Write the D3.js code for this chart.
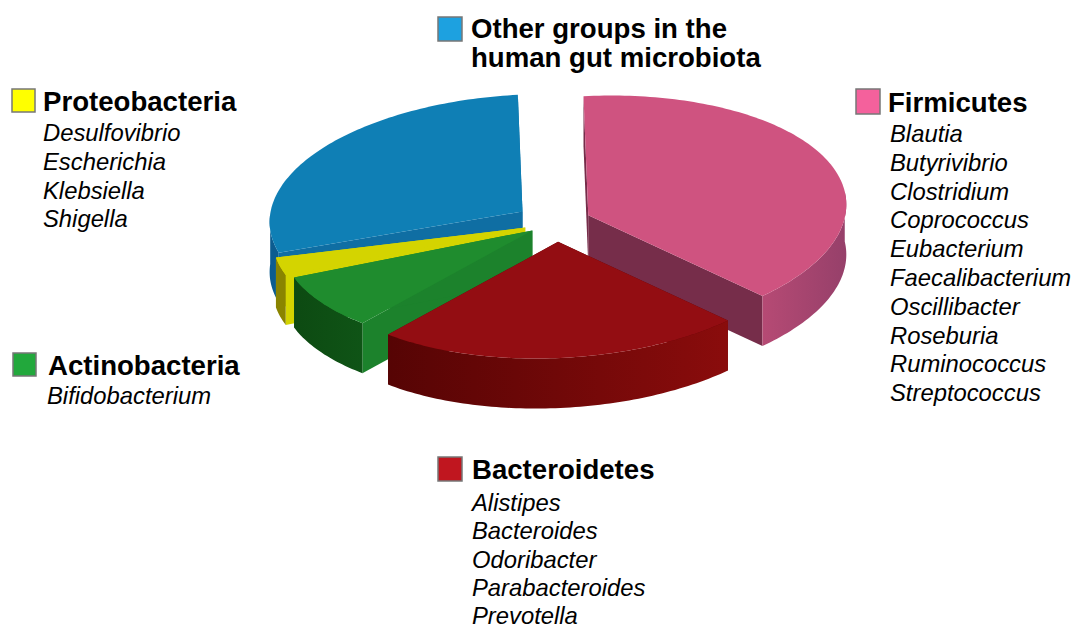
<!DOCTYPE html>
<html>
<head>
<meta charset="utf-8">
<script src="https://cdn.jsdelivr.net/npm/d3@7"></script>
<style>
html, body { margin: 0; padding: 0; background: #fff; }
svg { display: block; }
text { font-family: "Liberation Sans", Arial, sans-serif; fill: #000; }
</style>
</head>
<body>
<svg id="chart" width="1073" height="628"></svg>
<script>
// Chart values
const groups = ["Firmicutes", "Bacteroidetes", "Actinobacteria", "Proteobacteria", "Other"];
const shares = [38.5, 23.6, 8, 2.5, 27.4];

const firmicutes = ["Blautia", "Butyrivibrio", "Clostridium", "Coprococcus", "Eubacterium", "Faecalibacterium", "Oscillibacter", "Roseburia", "Ruminococcus", "Streptococcus"];
const bacteroidetes = ["Alistipes", "Bacteroides", "Odoribacter", "Parabacteroides", "Prevotella"];
const actinobacteria = ["Bifidobacterium"];
const proteobacteria = ["Desulfovibrio", "Escherichia", "Klebsiella", "Shigella"];
const otherTitle = ["Other groups in the", "human gut microbiota"];

// Pie geometry
const svg = d3.select("#chart");
const cx = 554, cy = 223;   // centre of the un-exploded pie
const rx = 258, ry = 119;   // ellipse radii of the top face
const depth = 50;           // height of the extrusion
const skewX = 0.04, skewY = 0.05; // the whole pie leans a little

// slice looks: colours, explode fraction, radius scale, small nudges to sit like the original
const styles = [
    {top: "#cf5380", wall: "#762d4a", outL: "#b64a74", outR: "#96406a", explode: 0.143, rad: 1, nudge: [0, 0], extra: 0},
    {top: "#930d12", wall: "#5a0404", outL: "#560404", outR: "#8a0c0c", explode: 0.143, rad: 0.975, nudge: [4, 2], extra: 0},
    {top: "#1f8c2e", wall: "#1c822c", outL: "#0d4a12", outR: "#0f5416", explode: 0.10, rad: 0.975, nudge: [0, 0], extra: 0},
    {top: "#d4d400", wall: "#d4d400", outL: "#8a8400", outR: "#8a8400", explode: 0.115, rad: 0.98, nudge: [0, 0], extra: 0},
    {top: "#0f7fb5", wall: "#0f6ea3", outL: "#0c5c90", outR: "#0c5c90", explode: 0.143, rad: 0.98, nudge: [-3, -2], extra: 0.1}
];

// Maps a pie angle + radius fraction to the screen, z pushes it down
function project(t, r, ox, oy, z) {
    const u = rx * r * Math.sin(t) + ox;
    const v = -ry * r * Math.cos(t) + oy;
    return [cx + u + skewX * v, cy + v - skewY * u + z];
}

const pie = d3.pie().sort(null).value(d => d);
const arcs = pie(shares);
const line = d3.line();

const defs = svg.append("defs");
arcs.forEach((d, i) => {
    const g = defs.append("linearGradient").attr("id", "outer" + i);
    g.append("stop").attr("offset", "0%").attr("stop-color", styles[i].outL);
    g.append("stop").attr("offset", "100%").attr("stop-color", styles[i].outR);
});

// Back to front
const drawOrder = [4, 3, 0, 2, 1];
const pieGroup = svg.append("g");

drawOrder.forEach(i => {
    const d = arcs[i], st = styles[i];
    const mid = (d.startAngle + d.endAngle) / 2;
    const ox = rx * st.explode * Math.sin(mid) + st.nudge[0];
    const oy = -ry * st.explode * Math.cos(mid) + st.nudge[1];
    const a0 = d.startAngle - st.extra, a1 = d.endAngle;
    const n = Math.max(6, Math.ceil((a1 - a0) / 0.02));
    const angles = d3.range(n + 1).map(k => a0 + (a1 - a0) * k / n);
    const rim = angles.map(t => project(t, st.rad, ox, oy, 0));
    const rimLow = angles.map(t => project(t, st.rad, ox, oy, depth));
    const apex = project(0, 0, ox, oy, 0);
    const apexLow = project(0, 0, ox, oy, depth);
    const s = pieGroup.append("g").attr("class", "slice").attr("data-name", groups[i]);

    // cut walls
    s.append("path").attr("fill", st.wall)
        .attr("d", line([apex, rim[0], rimLow[0], apexLow]) + "Z");
    s.append("path").attr("fill", st.wall)
        .attr("d", line([apex, rim[n], rimLow[n], apexLow]) + "Z");

    // outer wall, only the part that faces the viewer
    const front = angles.filter(t => Math.cos(t) < 0.1);
    if (front.length > 1) {
        const a = front.map(t => project(t, st.rad, ox, oy, 0));
        const b = front.map(t => project(t, st.rad, ox, oy, depth)).reverse();
        s.append("path").attr("fill", "url(#outer" + i + ")")
            .attr("d", line(a.concat(b)) + "Z");
    }

    // top face
    s.append("path").attr("fill", st.top)
        .attr("d", line([apex].concat(rim)) + "Z");
});

// Legend blocks
const legend = [
    {title: ["Firmicutes"], names: firmicutes, color: "#f4619c", box: [856, 89, 24, 25], tx: 888, ty: 112, nx: 890, ny: 142},
    {title: ["Bacteroidetes"], names: bacteroidetes, color: "#c0161f", box: [438, 457, 24, 24], tx: 472, ty: 479, nx: 472, ny: 511, step: 28.25},
    {title: ["Actinobacteria"], names: actinobacteria, color: "#22a83c", box: [13, 353, 23, 23], tx: 48, ty: 375, nx: 47, ny: 404},
    {title: ["Proteobacteria"], names: proteobacteria, color: "#ffff00", box: [12, 89, 23, 23], tx: 43, ty: 111, nx: 43, ny: 141},
    {title: otherTitle, names: [], color: "#1da1e0", box: [438, 17, 24, 24], tx: 471, ty: 38, nx: 471, ny: 0}
];

const legendGroup = svg.append("g");
legend.forEach(l => {
    legendGroup.append("rect")
        .attr("x", l.box[0]).attr("y", l.box[1])
        .attr("width", l.box[2]).attr("height", l.box[3])
        .attr("fill", l.color)
        .attr("stroke", "#777").attr("stroke-width", 1.5);
    l.title.forEach((t, k) => {
        legendGroup.append("text")
            .attr("x", l.tx).attr("y", l.ty + k * 29)
            .attr("font-size", 27.6).attr("font-weight", "bold")
            .text(t);
    });
    l.names.forEach((t, k) => {
        legendGroup.append("text")
            .attr("x", l.nx).attr("y", l.ny + k * (l.step || 28.8))
            .attr("font-size", 23.8).attr("font-style", "italic")
            .text(t);
    });
});
</script>
</body>
</html>
